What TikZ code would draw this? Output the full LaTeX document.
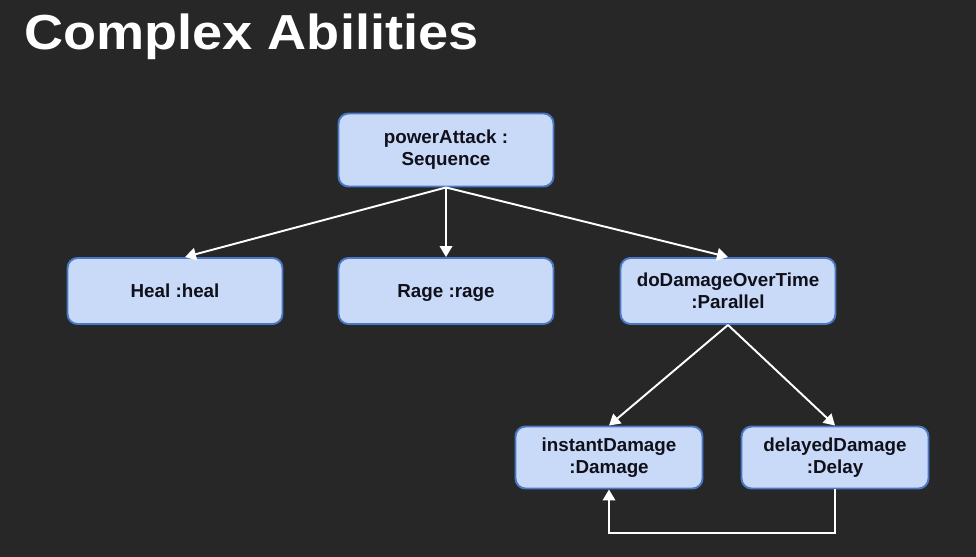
\documentclass[tikz,border=0pt]{standalone}
\usepackage{fontspec}
\setmainfont{Liberation Sans}
\usepackage{xcolor}
\usetikzlibrary{positioning,arrows.meta}

\definecolor{slidebg}{HTML}{272727}
\definecolor{boxfill}{HTML}{C9DAF8}
\definecolor{boxline}{HTML}{4A78C4}
\definecolor{boxtext}{HTML}{10101A}

\begin{document}
\begin{tikzpicture}[x=0.02cm,y=-0.02cm,>={Triangle[width=0.25cm,length=0.22cm]}]
		
		\tikzset{
			objbox/.style={draw=boxline, line width=1.1pt, fill=boxfill, rounded corners=0.2cm,
				align=center, text=boxtext, font=\fontsize{10.7}{12.6}\selectfont\bfseries,
				minimum width=4.3cm, minimum height=1.32cm, inner sep=2pt},
			smallbox/.style={objbox, minimum width=3.74cm, minimum height=1.24cm},
			link/.style={draw=white, line width=1.1pt, ->}
		}
		
		% ===== NỀN + TIÊU ĐỀ =====
		\fill[slidebg] (0,0) rectangle (976,557);
		\useasboundingbox (0,0) rectangle (976,557);
		
		\node[anchor=base west, inner sep=0pt, text=white, xscale=1.1,
		font=\fontsize{28}{34}\selectfont\bfseries] (title) at (24,50) {Complex Abilities};
		
		% ===== CÁC NÚT =====
		\node[objbox, minimum height=1.46cm] (power) at (446,150) {powerAttack :\\Sequence};
		
		\node[objbox] (heal) at (175,291) {Heal :heal};
		\node[objbox, text depth=0pt] (rage) at (446,291) {Rage :rage};
		\node[objbox] (dot) at (728,291) {doDamageOverTime\\:Parallel};
		
		\node[smallbox] (instant) at (609,457.5) {instantDamage\\:Damage};
		\node[smallbox] (delayed) at (835,457.5) {delayedDamage\\:Delay};
		
		% ===== MŨI TÊN =====
		\draw[link] (power.south) -- ([xshift=0.2cm]heal.north);
		\draw[link] (power.south) -- (rage.north);
		\draw[link] (power.south) -- (dot.north);
		
		\draw[link] (dot.south) -- (instant.north);
		\draw[link] (dot.south) -- (delayed.north);
		
		\coordinate (loop) at (0,533);
		\draw[link] (delayed.south) -- (delayed.south |- loop) -- (instant.south |- loop) -- (instant.south);
		
	\end{tikzpicture}
\end{document}
